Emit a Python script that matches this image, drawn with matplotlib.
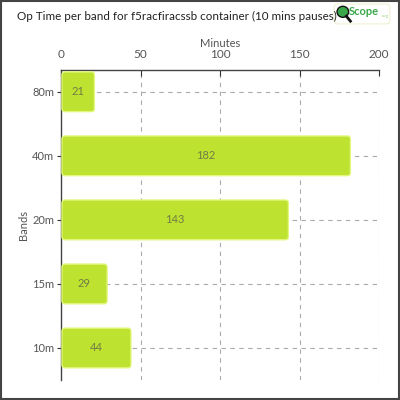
import matplotlib
matplotlib.use("Agg")
import matplotlib.pyplot as plt
from matplotlib.patches import FancyBboxPatch, Rectangle, Circle

bands = ["10m", "15m", "20m", "40m", "80m"]
minutes = [44, 29, 143, 182, 21]
x_ticks = [0, 50, 100, 150, 200]
title = "Op Time per band for f5racfiracssb container (10 mins pauses)"

plt.rcParams['font.family'] = ['Lato', 'DejaVu Sans']

fig = plt.figure(figsize=(4, 4), dpi=100)
ax = fig.add_axes([0.1525, 0.05, 0.795, 0.775])

bar_h = 0.62
bars = ax.barh(range(len(bands)), minutes, height=bar_h, color="none", edgecolor="none")
ax.set_xlim(0, 200)
ax.set_ylim(-0.5, 4.34)

# rounded bars drawn from the bar geometry
px_x = 318 / 200.0
px_y = 64.0
for b, v in zip(bars, minutes):
    x0, y0 = b.get_x() + 0.6, b.get_y()
    w, h = b.get_width() - 0.6, b.get_height()
    p = FancyBboxPatch((x0, y0), w, h,
                       boxstyle="round,pad=0,rounding_size=2.0",
                       mutation_aspect=px_x / px_y,
                       facecolor="#bde22f", edgecolor="#e2f77c", linewidth=1.0,
                       zorder=3)
    ax.add_patch(p)
    ax.text(b.get_x() + b.get_width() / 2, b.get_y() + h / 2, str(v),
            ha="center", va="center", fontsize=8, color="#6f7d46", zorder=4)

ax.set_yticks(range(len(bands)))
ax.set_yticklabels(bands)
ax.set_xticks(x_ticks)
ax.xaxis.tick_top()
ax.xaxis.set_label_position("top")
ax.set_xlabel("Minutes", fontsize=8, color="#555555", labelpad=1.5)
ax.set_ylabel("Bands", fontsize=8, color="#555555", labelpad=2)

ax.tick_params(axis="x", direction="in", length=4, labelsize=8.5, labelcolor="#555555",
               color="#333333", pad=7)
ax.tick_params(axis="y", length=3, labelsize=8, labelcolor="#555555", color="#333333", pad=2)

for s in ["right", "bottom"]:
    ax.spines[s].set_visible(False)
for s in ["top", "left"]:
    ax.spines[s].set_color("#444444")
    ax.spines[s].set_linewidth(1.0)

ax.grid(True, linestyle=(0, (4, 4)), color="#aaaaaa", linewidth=0.8, zorder=0)
ax.set_axisbelow(True)

fig.text(0.042, 0.958, title, fontsize=8.35, color="#222222", ha="left", va="center")

# logo
lax = fig.add_axes([0.8325, 0.9375, 0.145, 0.055])
lax.set_xlim(0, 10)
lax.set_ylim(0, 4)
lax.axis("off")
lax.add_patch(FancyBboxPatch((0.2, 0.2), 9.6, 3.6, boxstyle="round,pad=0,rounding_size=0.6",
                             facecolor="white", edgecolor="#eef2d0", linewidth=0.8))
lax.add_patch(Circle((1.7, 2.4), 1.0, facecolor="#3aa84a", edgecolor="#111111", linewidth=1.0))
lax.plot([2.3, 3.0], [1.6, 0.7], color="#111111", linewidth=2.0)
lax.text(2.8, 2.4, "Scope", fontsize=8, fontweight="bold", color="#3aa84a", ha="left", va="center")
lax.text(8.4, 1.7, ".org", fontsize=3.2, color="#9ccf7a", ha="left", va="center")

fig.patches.append(Rectangle((0.0015, 0.0015), 0.996, 0.996, transform=fig.transFigure,
                             fill=False, edgecolor="#444444", linewidth=1.5))

fig.savefig("out.png", dpi=100)
